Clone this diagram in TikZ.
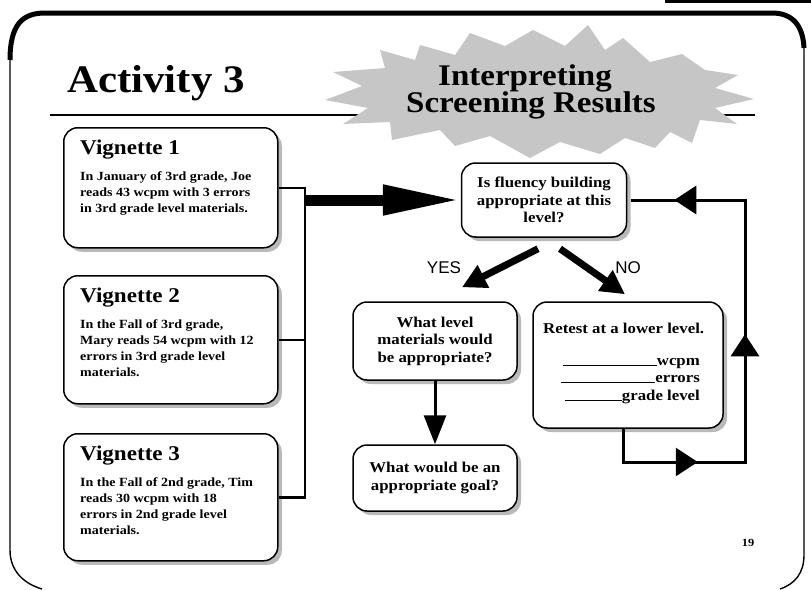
\documentclass[tikz,border=0pt]{standalone}
\usepackage{fontspec}
\setmainfont{Liberation Serif}[FakeStretch=1.12]
\setsansfont{Liberation Sans}
\newfontfamily\headfont{Liberation Serif}[FakeStretch=1.1]
\usetikzlibrary{arrows.meta,shadows,decorations.markings,positioning}

\begin{document}
\begin{tikzpicture}[x=1pt,y=-1pt,
  vbox/.style={draw,line width=1.5pt,rounded corners=14pt,fill=white,inner sep=0,
    drop shadow={shadow xshift=4pt,shadow yshift=-4pt,fill=gray!55,opacity=1}},
  vtitle/.style={anchor=base west,inner sep=0,font=\headfont\bfseries\fontsize{21}{24}\selectfont},
  vbody/.style={anchor=north west,inner sep=0,align=left,font=\bfseries\fontsize{12.5}{16}\selectfont},
  qtext/.style={align=center,font=\bfseries\fontsize{15}{17.5}\selectfont},
  rtext/.style={inner sep=0,font=\bfseries\fontsize{15}{17.5}\selectfont},
  answer/.style={inner sep=0,font=\sffamily\fontsize{17}{20}\selectfont},
  bigarrow/.style={line width=11pt,-{Triangle[length=78pt,width=28pt]}},
  fork/.style={line width=7pt,-{Triangle[length=24pt,width=24pt]}},
  loopline/.style={line width=3pt,postaction={decorate},decoration={markings,
    mark=at position 108pt with {\arrow{Triangle[length=22pt,width=28pt]}},
    mark=at position 283pt with {\arrow{Triangle[length=22pt,width=28pt]}},
    mark=at position 488pt with {\arrow{Triangle[length=22pt,width=28pt]}}}}]
  \useasboundingbox (0,0) rectangle (811,589);
  % frame
  \fill (665,0) rectangle (811,3);
  \draw[line width=5pt] (10,60) .. controls (10,25) and (22,13) .. (45,13) -- (772,13)
    .. controls (792,13) and (803,25) .. (804,48);
  \draw[line width=1.4pt] (10,60) -- (10,550) .. controls (10,572) and (25,584) .. (42,589);
  \draw[line width=1.4pt] (804,48) -- (804,555) .. controls (804,573) and (795,584) .. (780,589);
  \draw[line width=1.4pt] (50,115) -- (755,115);
  \node[inner sep=0,anchor=base,font=\headfont\bfseries\fontsize{39}{40}\selectfont] (activity) at (156,92) {Activity 3};
  % starburst
  \fill[gray!45] (325,100) -- (368,108) -- (343,124) -- (390,122) -- (392,140) -- (440,130)
    -- (455,146) -- (490,136) -- (530,158) -- (560,142) -- (600,154) -- (625,138)
    -- (655,148) -- (670,132) -- (692,143) -- (700,120) -- (737,124) -- (715,108)
    -- (754,99) -- (715,88) -- (738,75) -- (705,70) -- (682,54) -- (650,62)
    -- (623,38) -- (605,50) -- (588,25) -- (565,46) -- (533,30) -- (505,46)
    -- (470,33) -- (455,55) -- (420,45) -- (415,60) -- (380,50) -- (385,68)
    -- (333,72) -- (362,86) -- cycle;
  \node[inner sep=0,anchor=base,font=\headfont\bfseries\fontsize{30}{32}\selectfont] (interp) at (525,85) {Interpreting};
  \node[inner sep=0,anchor=base,font=\headfont\bfseries\fontsize{30}{32}\selectfont] (screen) at (531,112) {Screening Results};
  % vignettes
  \foreach \i/\top/\ht in {1/127/120,2/275/128,3/433/127} {
    \node[vbox,anchor=north west,minimum width=214,minimum height=\ht] (v\i) at (63,\top) {};
    \node[vtitle] (v\i title) at ([shift={(17,27)}]v\i.north west) {Vignette \i};
  }
  \node[vbody] (v1text) at ([shift={(17,44)}]v1.north west) {In January of 3rd grade, Joe\\reads 43 wcpm with 3 errors\\in 3rd grade level materials.};
  \node[vbody] (v2text) at ([shift={(17,44)}]v2.north west) {In the Fall of 3rd grade,\\Mary reads 54 wcpm with 12\\errors in 3rd grade level\\materials.};
  \node[vbody] (v3text) at ([shift={(17,44)}]v3.north west) {In the Fall of 2nd grade, Tim\\reads 30 wcpm with 18\\errors in 2nd grade level\\materials.};
  % flow
  \node[vbox,qtext,minimum width=165,minimum height=74] (q1) at (544,200) {Is fluency building\\appropriate at this\\level?};
  \node[vbox,qtext,minimum width=164,minimum height=78] (levels) at (435,341) {What level\\materials would\\be appropriate?};
  \node[vbox,qtext,minimum width=164,minimum height=66] (goal) at (435,478) {What would be an\\appropriate goal?};
  \node[vbox,minimum width=190,minimum height=126] (retest) at (628,365) {};
  \node[rtext,anchor=base west] (retesttext) at (543,333) {Retest at a lower level.};
  \foreach \w/\t/\y [count=\i] in {94/wcpm/365,94/errors/382,57/grade level/400}
    \node[rtext,anchor=base east] (blank\i) at (700,\y) {\rule[-1pt]{\w pt}{1pt}\t};
  \node[answer] (yes) at (444,268) {YES};
  \node[answer] (no) at (628,268) {NO};
  \node[inner sep=0,font=\bfseries\fontsize{11}{12}\selectfont] (page) at (748,543) {19};
  \coordinate (jn) at (305,200);
  \coordinate (corner) at (745,462);
  \draw[line width=2.5pt] (v1.east) -| (jn) |- (v3.east);
  \draw[line width=2.5pt] (v2.east) -- (v2.east -| jn);
  \draw[bigarrow] (jn) -- (q1.west);
  \draw[fork] ([shift={(-6,11)}]q1.south) -- ([shift={(27,-14)}]levels.north);
  \draw[fork] ([shift={(16,11)}]q1.south) -- ([shift={(-3,-7)}]retest.north);
  \draw[line width=3pt,-{Triangle[length=29pt,width=22pt]}] (levels.south) -- (goal.north);
  \draw[loopline] ([xshift=-5pt]retest.south) |- (corner) |- ([xshift=4pt]q1.east);
\end{tikzpicture}
\end{document}
